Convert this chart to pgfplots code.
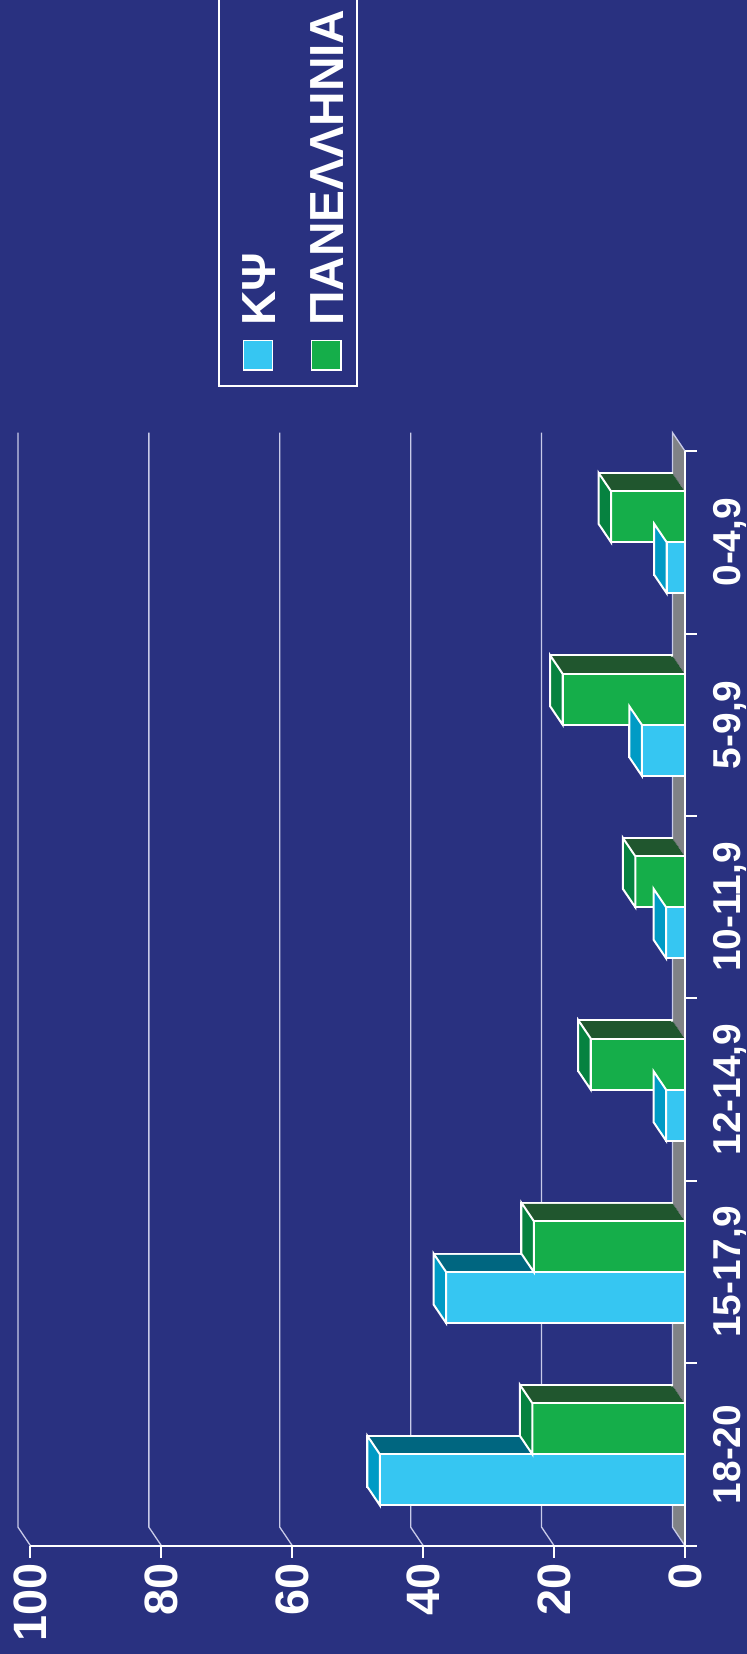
\documentclass[border=0pt]{standalone}
\usepackage{pgfplots}
\pgfplotsset{compat=1.18}
\usepackage{pgfplotstable}
\usepackage{fontspec}
\setmainfont{Liberation Sans}

\definecolor{bg}{RGB}{41,49,128}
\definecolor{gridc}{RGB}{200,202,232}
\definecolor{floorc}{RGB}{128,130,134}
\definecolor{kpsfront}{RGB}{54,198,242}
\definecolor{kpsside}{RGB}{0,155,197}
\definecolor{kpslong}{RGB}{0,102,128}
\definecolor{panfront}{RGB}{21,174,74}
\definecolor{panside}{RGB}{6,130,64}
\definecolor{panlong}{RGB}{32,86,46}

% short end face of a 3D bar, drawn at the bar's end
\pgfdeclareplotmark{sideface}{%
  \pgfpathmoveto{\pgfpoint{0bp}{-25.5bp}}%
  \pgfpathlineto{\pgfpoint{0bp}{25.5bp}}%
  \pgfpathlineto{\pgfpoint{-12.5bp}{44bp}}%
  \pgfpathlineto{\pgfpoint{-12.5bp}{-7bp}}%
  \pgfpathclose
  \pgfusepathqfillstroke}

% cat 0 = 18-20 (bottom) ... 5 = 0-4,9 (top)
\pgfplotstableread{
cat kps pan
0 46.6 23.3
1 36.5 23.1
2 2.9 14.4
3 2.9 7.6
4 6.6 18.7
5 2.8 11.3
}\data

\begin{document}
\begin{tikzpicture}
\fill[bg] (0,0) rectangle (747bp,1654bp);
\useasboundingbox (0,0) rectangle (747bp,1654bp);
\begin{axis}[
  at={(30.5bp,108.3bp)}, anchor=south west,
  width=654.5bp, height=1094.7bp, scale only axis,
  xmin=0, xmax=100, x dir=reverse,
  ymin=-0.5, ymax=5.5,
  clip=false,
  axis line style={draw=none},
  major tick length=0pt,
  xtick={0,20,...,100},
  ytick={0,...,5},
  yticklabels={{18-20},{15-17,9},{12-14,9},{10-11,9},{5-9,9},{0-4,9}},
  yticklabel pos=right,
  /pgf/number format/assume math mode=true,
  xticklabel style={rotate=90, anchor=east, inner sep=0pt, text=white,
    font=\bfseries\fontsize{47}{50}\selectfont},
  xticklabel shift=17.5bp,
  yticklabel style={rotate=90, anchor=north, inner sep=0pt, text=white,
    font=\bfseries\fontsize{39}{42}\selectfont},
  yticklabel shift=28bp,
]
% floor and back wall
\fill[floorc] (axis cs:0,-0.5) -- (axis cs:0,5.5) -- ++(-12.5bp,18.5bp)
  -- ([shift={(-12.5bp,18.5bp)}]axis cs:0,-0.5) -- cycle;
\draw[gridc, line width=1.3bp] (axis cs:0,-0.5) -- ++(-12.5bp,18.5bp)
  -- ([shift={(-12.5bp,18.5bp)}]axis cs:0,5.5) -- (axis cs:0,5.5);
\pgfplotsinvokeforeach{20,40,60,80,100}{
  \draw[gridc, line width=1.3bp] (axis cs:#1,-0.5) -- ++(-12.5bp,18.5bp)
    -- ([shift={(-12.5bp,18.5bp)}]axis cs:#1,5.5);
}

% KPS bars
\addplot[xbar, bar width=51bp, bar shift=-25.5bp, fill=kpslong, draw=white,
  line width=2bp, xshift=-12.5bp, yshift=18.5bp] table[x=kps,y=cat]{\data};
\pgfplotsinvokeforeach{1,...,12}{
  \addplot[xbar, bar width=51bp, bar shift=-25.5bp, fill=kpslong, draw=none,
    xshift={-#1*0.9615bp}, yshift={#1*1.423bp}] table[x=kps,y=cat]{\data};
}
\addplot[only marks, mark=sideface, yshift=-25.5bp,
  mark options={fill=kpsside, draw=white, line width=2bp}] table[x=kps,y=cat]{\data};
\addplot[xbar, bar width=51bp, bar shift=-25.5bp, fill=kpsfront, draw=white,
  line width=2bp] table[x=kps,y=cat]{\data};

% PAN bars
\addplot[xbar, bar width=51bp, bar shift=25.5bp, fill=panlong, draw=white,
  line width=2bp, xshift=-12.5bp, yshift=18.5bp] table[x=pan,y=cat]{\data};
\pgfplotsinvokeforeach{1,...,12}{
  \addplot[xbar, bar width=51bp, bar shift=25.5bp, fill=panlong, draw=none,
    xshift={-#1*0.9615bp}, yshift={#1*1.423bp}] table[x=pan,y=cat]{\data};
}
\addplot[only marks, mark=sideface, yshift=25.5bp,
  mark options={fill=panside, draw=white, line width=2bp}] table[x=pan,y=cat]{\data};
\addplot[xbar, bar width=51bp, bar shift=25.5bp, fill=panfront, draw=white,
  line width=2bp] table[x=pan,y=cat]{\data};

% front axes and ticks
\draw[white, line width=2bp] (axis cs:100,-0.5) -- (axis cs:0,-0.5) -- (axis cs:0,5.5);
\pgfplotsinvokeforeach{0,20,40,60,80,100}{
  \draw[white, line width=2bp] (axis cs:#1,-0.5) -- ++(0bp,-12bp);
}
\pgfplotsinvokeforeach{-0.5,0.5,1.5,2.5,3.5,4.5,5.5}{
  \draw[white, line width=2bp] (axis cs:0,#1) -- ++(12.5bp,0bp);
}
\end{axis}

% legend
\draw[white, line width=1.8bp] (219bp,1700bp) -- (219bp,1268.3bp)
  -- (356.7bp,1268.3bp) -- (356.7bp,1700bp);
\filldraw[fill=kpsfront, draw=white, line width=1.5bp] (243.3bp,1284bp) rectangle (272.7bp,1313.3bp);
\filldraw[fill=panfront, draw=white, line width=1.5bp] (311.7bp,1284bp) rectangle (341bp,1313.3bp);
\node[rotate=90, anchor=base west, inner sep=0pt, text=white,
  font=\bfseries\fontsize{48}{50}\selectfont] at (275bp,1328bp) {ΚΨ};
\node[rotate=90, anchor=base west, inner sep=0pt, text=white,
  font=\bfseries\fontsize{48}{50}\selectfont] at (343.3bp,1328bp) {ΠΑΝΕΛΛΗΝΙΑ};
\end{tikzpicture}
\end{document}
